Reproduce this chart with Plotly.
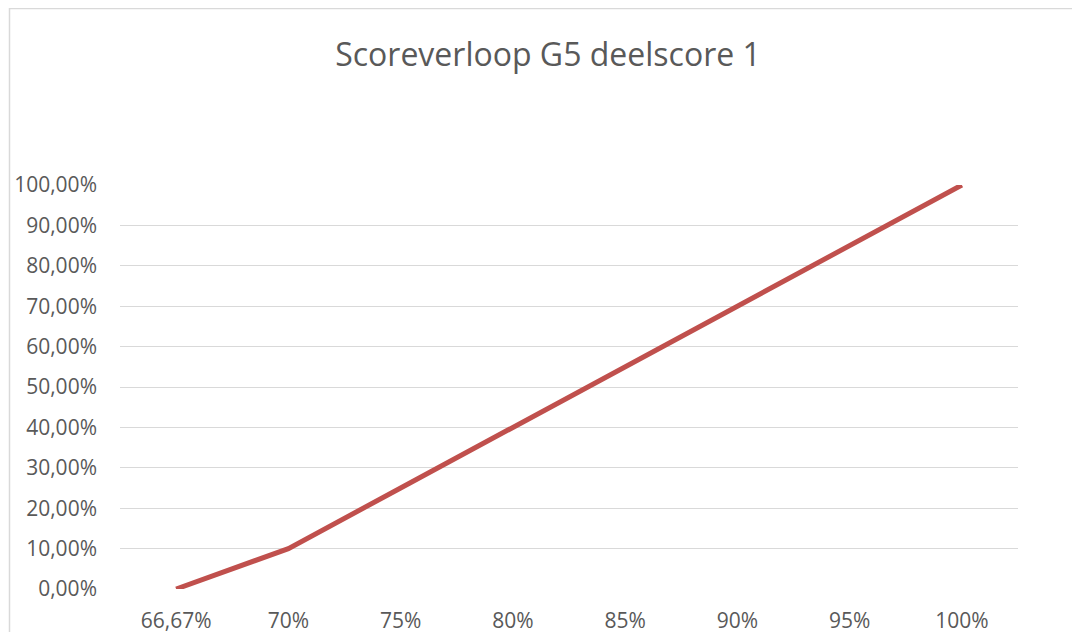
import plotly.graph_objects as go

categories = ["66,67%", "70%", "75%", "80%", "85%", "90%", "95%", "100%"]
scores = [0.0, 0.10, 0.25, 0.40, 0.55, 0.70, 0.85, 1.00]
title_text = "Scoreverloop G5 deelscore 1"

W, H = 1080, 632
OFF = 8  # page body margin
# plot area in page coordinates
L, R, T, B = 120, 1018, 185, 589
l, r, t, b = L - OFF, W - R + OFF, T - OFF, H - B + OFF
pw, ph = R - L, B - T

fig = go.Figure()
fig.add_trace(go.Scatter(
    x=categories, y=scores, mode="lines",
    line=dict(color="#c0504d", width=5),
    hoverinfo="skip", showlegend=False,
))

# chart border (page coords x=9.5, y=8.5)
fig.add_shape(type="rect", xref="paper", yref="paper",
              x0=(9.5 - L) / pw, x1=(1200 - L) / pw,
              y0=(B - 800) / ph, y1=(B - 8.5) / ph,
              line=dict(color="#d9d9d9", width=1.5), fillcolor="rgba(0,0,0,0)", layer="below")

fig.update_layout(
    width=W, height=H,
    margin=dict(l=l, r=r, t=t, b=b, pad=0, autoexpand=False),
    paper_bgcolor="white", plot_bgcolor="white",
    separators=",.",
    title=dict(text=title_text, x=0.5, xref="container", xanchor="center",
               y=1 - (55 - OFF) / H, yanchor="middle", automargin=False,
               font=dict(family="Open Sans, sans-serif", size=32, color="#595959")),
    font=dict(family="Open Sans, sans-serif", size=21, color="#595959"),
    xaxis=dict(type="category", range=[-0.5, 7.5], showgrid=False, zeroline=False,
               showline=False, ticks="", ticklabelstandoff=17, automargin=False,
               tickfont=dict(size=21, color="#595959")),
    yaxis=dict(range=[0, 1], dtick=0.1, tick0=0, tickformat=".2%",
               showgrid=True, gridcolor="#d9d9d9", gridwidth=1.3,
               zeroline=False, showline=False, ticks="", ticklabelstandoff=22,
               automargin=False,
               tickfont=dict(size=21, color="#595959")),
)

fig.write_html("out.html")
